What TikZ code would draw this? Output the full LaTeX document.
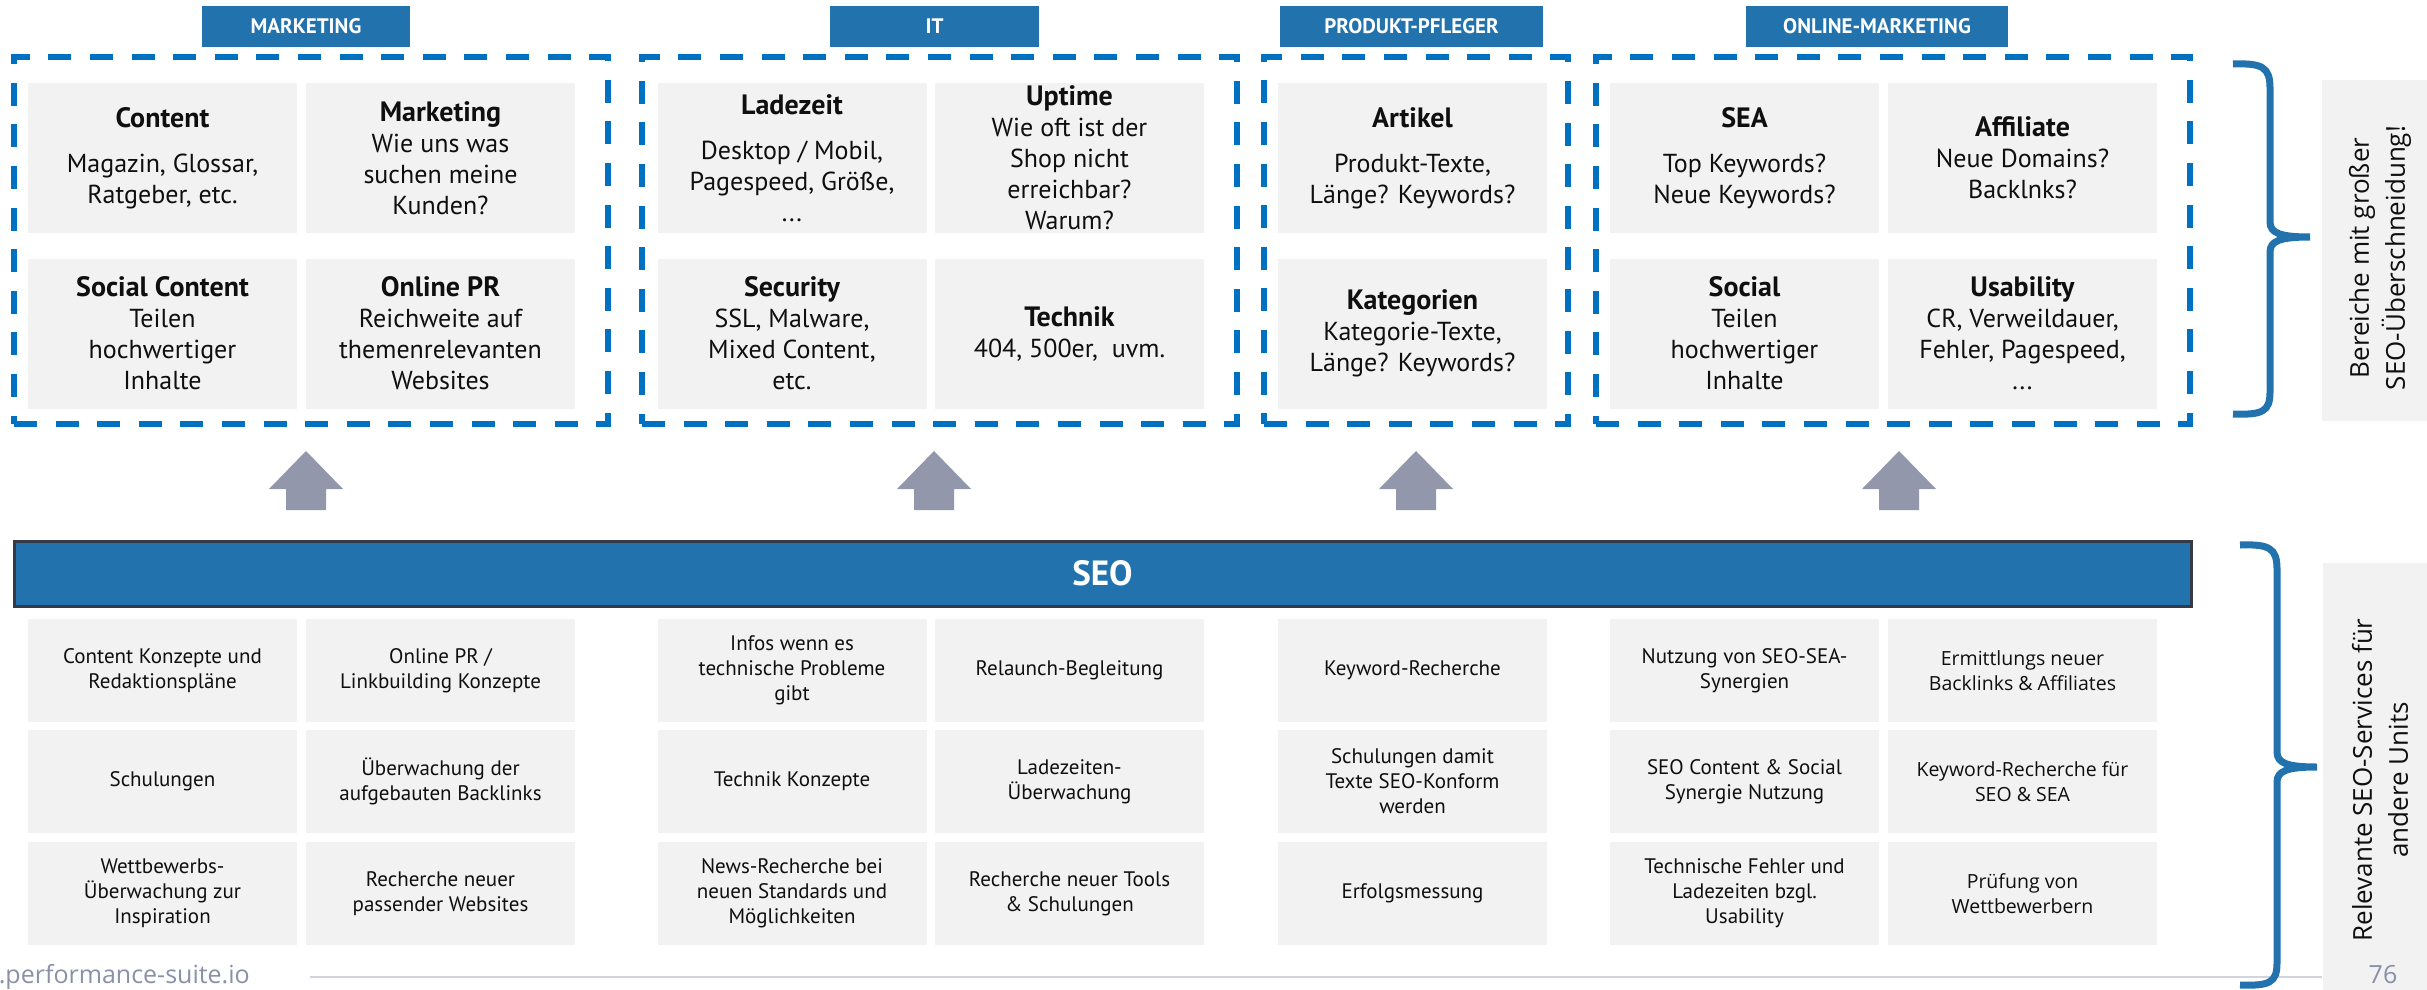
\documentclass[tikz,border=0pt]{standalone}
\usepackage{fontspec}
\setmainfont{PT Sans}
\newfontfamily\osans{Open Sans}
\definecolor{hdrblue}{RGB}{34,115,173}
\definecolor{dashblue}{RGB}{0,112,192}
\definecolor{boxgray}{RGB}{242,242,242}
\definecolor{arrowgray}{RGB}{146,151,171}
\definecolor{barborder}{RGB}{52,58,70}
\definecolor{footgray}{RGB}{138,144,168}
\definecolor{linegray}{RGB}{210,213,222}
\definecolor{txt}{RGB}{15,15,15}
\newcommand{\boxtitle}[1]{{\bfseries\fontsize{28}{31}\selectfont #1}}
\begin{document}
\begin{tikzpicture}[x=1pt,y=-1pt,
 tbox/.style={fill=boxgray, minimum width=269pt, minimum height=150pt, inner sep=0pt, align=center, text=txt, font=\fontsize{26}{31}\selectfont},
 lbox/.style={fill=boxgray, minimum width=269pt, minimum height=103pt, inner sep=0pt, align=center, text=txt, font=\fontsize{21}{25}\selectfont},
 obox/.style={lbox, font=\osans\fontsize{19.5}{25}\selectfont},
 hdr/.style={fill=hdrblue, text=white, minimum height=41pt, inner sep=0pt, font=\bfseries\fontsize{21}{24}\selectfont},
 dframe/.style={draw=dashblue, line width=6pt, dash pattern=on 23pt off 18.6pt, minimum height=367pt, inner sep=0pt},
 sidebox/.style={fill=boxgray, inner sep=0pt, minimum width=105pt},
 sidetext/.style={rotate=90, align=center, inner sep=0pt, text=txt, font=\osans\fontsize{26}{36}\selectfont},
 bracepath/.style={draw=hdrblue, line width=7pt},
 uparrow/.style={fill=arrowgray}
]
\useasboundingbox (0,0) rectangle (2427,990);

% headers
\node[hdr, minimum width=208pt] (hm) at (306,26.5) {MARKETING};
\node[hdr, minimum width=209pt] (hi) at (934.5,26.5) {IT};
\node[hdr, minimum width=263pt] (hp) at (1411.5,26.5) {PRODUKT-PFLEGER};
\node[hdr, minimum width=262pt] (ho) at (1877,26.5) {ONLINE-MARKETING};

% dashed frames
\node[dframe, minimum width=594pt] (fm) at (311,240.5) {};
\node[dframe, minimum width=595pt] (fi) at (939.5,240.5) {};
\node[dframe, minimum width=304pt] (fp) at (1416,240.5) {};
\node[dframe, minimum width=594pt] (fo) at (1893,240.5) {};

% top boxes
\node[tbox] (m1) at (162.5,158) {\boxtitle{Content}\\[14pt]Magazin, Glossar,\\Ratgeber, etc.};
\node[tbox] (m2) at (440.5,158) {\boxtitle{Marketing}\\Wie uns was\\suchen meine\\Kunden?};
\node[tbox] (m3) at (162.5,333.5) {\boxtitle{Social Content}\\Teilen\\hochwertiger\\Inhalte};
\node[tbox] (m4) at (440.5,333.5) {\boxtitle{Online PR}\\Reichweite auf\\themenrelevanten\\Websites};

\node[tbox] (i1) at (792,158) {\boxtitle{Ladezeit}\\[14pt]Desktop / Mobil,\\Pagespeed, Größe,\\...};
\node[tbox] (i2) at (1069.5,158) {\boxtitle{Uptime}\\Wie oft ist der\\Shop nicht\\erreichbar?\\Warum?};
\node[tbox] (i3) at (792,333.5) {\boxtitle{Security}\\SSL, Malware,\\Mixed Content,\\etc.};
\node[tbox] (i4) at (1069.5,333.5) {\boxtitle{Technik}\\404, 500er,\ \ uvm.};

\node[tbox] (p1) at (1412.5,158) {\boxtitle{Artikel}\\[14pt]Produkt-Texte,\\Länge? Keywords?};
\node[tbox] (p2) at (1412.5,333.5) {\boxtitle{Kategorien}\\Kategorie-Texte,\\Länge? Keywords?};

\node[tbox] (o1) at (1744.5,158) {\boxtitle{SEA}\\[14pt]Top Keywords?\\Neue Keywords?};
\node[tbox] (o2) at (2022.5,158) {\boxtitle{Affiliate}\\Neue Domains?\\Backlnks?};
\node[tbox] (o3) at (1744.5,333.5) {\boxtitle{Social}\\Teilen\\hochwertiger\\Inhalte};
\node[tbox] (o4) at (2022.5,333.5) {\boxtitle{Usability}\\CR, Verweildauer,\\Fehler, Pagespeed,\\...};

% arrows
\foreach \cx in {306,934,1416,1899} {
  \fill[uparrow] (\cx-20,510) -- (\cx-20,489) -- (\cx-37,489) -- (\cx,451) -- (\cx+37,489) -- (\cx+20,489) -- (\cx+20,510) -- cycle;
}

% SEO bar
\node[fill=hdrblue, draw=barborder, line width=3pt, minimum width=2177pt, minimum height=65pt, inner sep=0pt, text=white, font=\bfseries\fontsize{35}{40}\selectfont] (seo) at (1102.5,573.5) {SEO};

% bottom boxes
\node[lbox] (bm11) at (162.5,670.5) {Content Konzepte und\\Redaktionspläne};
\node[lbox] (bm21) at (162.5,781.5) {Schulungen};
\node[lbox] (bm31) at (162.5,893.5) {Wettbewerbs-\\Überwachung zur\\Inspiration};
\node[lbox] (bm12) at (440.5,670.5) {Online PR /\\Linkbuilding Konzepte};
\node[lbox] (bm22) at (440.5,781.5) {Überwachung der\\aufgebauten Backlinks};
\node[lbox] (bm32) at (440.5,893.5) {Recherche neuer\\passender Websites};

\node[lbox] (bi11) at (792,670.5) {Infos wenn es\\technische Probleme\\gibt};
\node[lbox] (bi21) at (792,781.5) {Technik Konzepte};
\node[lbox] (bi31) at (792,893.5) {News-Recherche bei\\neuen Standards und\\Möglichkeiten};
\node[lbox] (bi12) at (1069.5,670.5) {Relaunch-Begleitung};
\node[lbox] (bi22) at (1069.5,781.5) {Ladezeiten-\\Überwachung};
\node[lbox] (bi32) at (1069.5,893.5) {Recherche neuer Tools\\\& Schulungen};

\node[lbox] (bp1) at (1412.5,670.5) {Keyword-Recherche};
\node[lbox] (bp2) at (1412.5,781.5) {Schulungen damit\\Texte SEO-Konform\\werden};
\node[lbox] (bp3) at (1412.5,893.5) {Erfolgsmessung};

\node[lbox] (bo11) at (1744.5,670.5) {Nutzung von SEO-SEA-\\Synergien};
\node[lbox] (bo21) at (1744.5,781.5) {SEO Content \& Social\\Synergie Nutzung};
\node[lbox] (bo31) at (1744.5,893.5) {Technische Fehler und\\Ladezeiten bzgl.\\Usability};
\node[obox] (bo12) at (2022.5,670.5) {Ermittlungs neuer\\Backlinks \& Affiliates};
\node[obox] (bo22) at (2022.5,781.5) {Keyword-Recherche für\\SEO \& SEA};
\node[obox] (bo32) at (2022.5,893.5) {Prüfung von\\Wettbewerbern};

% footer line
\draw[linegray, line width=2pt] (310,977) -- (2322,977);

% side boxes
\node[sidebox, minimum height=341pt] (s1) at (2374.5,250.5) {};
\node[sidebox, minimum height=427pt] (s2) at (2375.5,776.5) {};
\node[sidetext] (t1) at (2380,258) {Bereiche mit großer\\SEO-Überschneidung!};
\node[sidetext] (t2) at (2380,780) {Relevante SEO-Services für\\andere Units};

% braces
\draw[bracepath] (2233,64) .. controls (2262,63) and (2270,67) .. (2270,88) -- (2270,222)
  .. controls (2270,233) and (2280,237) .. (2310,237)
  .. controls (2280,237) and (2270,241) .. (2270,252) -- (2270,392)
  .. controls (2270,412) and (2262,415) .. (2233,414);
\draw[bracepath] (2240,545) .. controls (2269,544) and (2277,548) .. (2277,569) -- (2277,752)
  .. controls (2277,763) and (2287,767) .. (2317,767)
  .. controls (2287,767) and (2277,771) .. (2277,782) -- (2277,963)
  .. controls (2277,983) and (2269,986) .. (2240,985);

% footer
\node[anchor=base east, inner sep=0pt, text=footgray, font=\osans\fontsize{25}{30}\selectfont] (url) at (250,983) {www.performance-suite.io};
\node[anchor=base, inner sep=0pt, text=footgray, font=\osans\fontsize{25}{30}\selectfont] (pg) at (2383,983) {76};
\end{tikzpicture}
\end{document}
